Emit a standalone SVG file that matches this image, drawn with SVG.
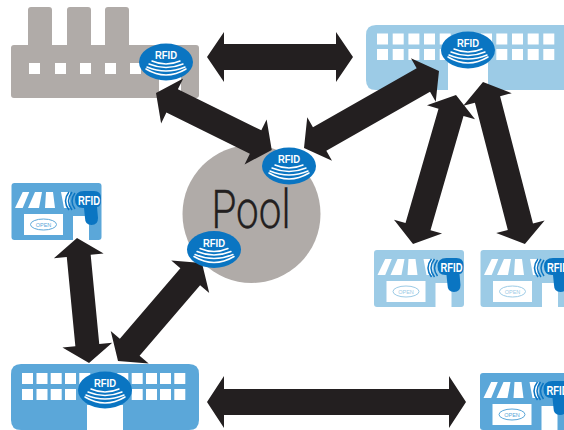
<svg xmlns="http://www.w3.org/2000/svg" width="564" height="430" viewBox="0 0 564 430">
<style>
.b{fill:#0a75c2}
.rt{font-family:"Liberation Sans",Arial,sans-serif;font-weight:700;font-size:11px;fill:#fff;text-anchor:middle}
.st{font-size:12.500px}
.ot{font-family:"Liberation Sans",Arial,sans-serif;font-size:5.500px;text-anchor:middle}
.w{fill:#fff}
.arr{fill:#231f20}
.arc{fill:none;stroke:#fff;stroke-width:1.500;stroke-linecap:round}
.wave{fill:none;stroke:#0a75c2;stroke-width:1.500}
</style>
<defs>
<g id="badge"><ellipse rx="27" ry="18.500" class="b"/>
<path class="arc" d="M-14-1Q0 5 14-1M-17 2Q0 9 17 2M-19 5Q0 13 19 5M-20 7Q0 19 20 7"/></g>
<g id="store">
<rect x="11.500" y="183" width="90" height="57" rx="3" fill="currentColor"/>
<path class="w" d="M22.700 192H29.300L22.700 208H15ZM35 192H42L39 208H28ZM46 192H53L55 208H45ZM61 192H70V208H64Z"/>
<rect x="24" y="214" width="39" height="21" class="w"/>
<rect x="73" y="216" width="16" height="24" class="w"/>
<ellipse cx="43.500" cy="224.500" rx="13" ry="5.500" fill="#fff" stroke="currentColor" stroke-width="1"/>
<path class="wave" d="M72 192Q65 201 72 210M69 192Q62 201 69 210M75 193Q69 201 75 209"/>
<path class="b" d="M84 191H94Q101 191 101 198V200Q101 207 97 207L98 218Q98 225 91.500 225Q85 225 85 218L84 208H83Q75 208 75 199.500Q75 191 84 191Z"/>
</g>
</defs>

<g id="factory">
<path fill="#b0aba8" d="M31 7H49Q52 7 52 10V45H67V10Q67 7 70 7H88Q91 7 91 10V45H105V10Q105 7 108 7H126Q129 7 129 10V45H196Q199 45 199 48V95Q199 98 196 98H14Q11 98 11 95V48Q11 45 14 45H28V10Q28 7 31 7Z"/>
<path class="w" d="M29 63h11v11h-11zM55 63h11v11h-11zM80 63h11v11h-11zM105 63h11v11h-11zM130 63h11v11h-11zM159 72h22v26h-22z"/>
</g>

<g id="dc-top">
<path fill="#9ccbe6" d="M376 25H564V90H376Q366 90 366 80V35Q366 25 376 25Z"/>
<path class="w" d="M377 33.500h11v11h-11zM392.700 33.500h11v11h-11zM408.400 33.500h11v11h-11zM424 33.500h11v11h-11zM439.700 33.500h11v11h-11zM481 33.500h11v11h-11zM496.300 33.500h11v11h-11zM512 33.500h11v11h-11zM527.700 33.500h11v11h-11zM543.300 33.500h11v11h-11zM377 49h11v11h-11zM392.700 49h11v11h-11zM408.400 49h11v11h-11zM424 49h11v11h-11zM439.700 49h11v11h-11zM496.300 49h11v11h-11zM512 49h11v11h-11zM527.700 49h11v11h-11zM543.300 49h11v11h-11zM448 60h40v30h-40z"/>
</g>

<g id="dc-bottom">
<path fill="#5ba7d9" d="M21 364H189Q199 364 199 374V420Q199 430 189 430H21Q11 430 11 420V374Q11 364 21 364Z"/>
<path class="w" d="M22 373h11v11h-11zM36.500 373h11v11h-11zM50.700 373h11v11h-11zM65 373h11v11h-11zM79.300 373h11v11h-11zM117.300 373h11v11h-11zM131.700 373h11v11h-11zM146 373h11v11h-11zM160 373h11v11h-11zM174.300 373h11v11h-11zM22 389h11v11h-11zM36.500 389h11v11h-11zM50.700 389h11v11h-11zM65 389h11v11h-11zM131.700 389h11v11h-11zM146 389h11v11h-11zM160 389h11v11h-11zM174.300 389h11v11h-11zM87 405h36v25h-36z"/>
</g>

<g id="pool">
<circle cx="251.500" cy="214" r="69" fill="#b0aba8"/>
<text x="251" y="228" font-family="Roboto,'Liberation Sans',sans-serif" font-weight="300" font-size="54" fill="#231f20" stroke="#231f20" stroke-width=".3" text-anchor="middle" textLength="79" lengthAdjust="spacingAndGlyphs">Pool</text>
</g>

<g id="store-left" color="#5ba7d9">
<use href="#store"/>
<text class="ot" x="43.500" y="226.500" fill="#5ba7d9">OPEN</text>
<text class="rt st" x="89" y="204.500" textLength="22" lengthAdjust="spacingAndGlyphs">RFID</text>
</g>
<g id="store-mid" color="#9ccbe6" transform="translate(362.500 67)">
<use href="#store"/>
<text class="ot" x="43.500" y="226.500" fill="#9ccbe6">OPEN</text>
<text class="rt st" x="89" y="204.500" textLength="22" lengthAdjust="spacingAndGlyphs">RFID</text>
</g>
<g id="store-right" color="#9ccbe6" transform="translate(469 67)">
<use href="#store"/>
<text class="ot" x="43.500" y="226.500" fill="#9ccbe6">OPEN</text>
<text class="rt st" x="89" y="204.500" textLength="22" lengthAdjust="spacingAndGlyphs">RFID</text>
</g>
<g id="store-bottom" color="#5ba7d9" transform="translate(468.500 190)">
<use href="#store"/>
<text class="ot" x="43.500" y="226.500" fill="#5ba7d9">OPEN</text>
<text class="rt st" x="89" y="204.500" textLength="22" lengthAdjust="spacingAndGlyphs">RFID</text>
</g>

<g id="connectors" class="arr">
<polygon transform="translate(207 57)" points="0,0 17,-25 17,-13 129,-13 129,-25 146,0 129,25 129,13 17,13 17,25"/>
<polygon transform="translate(207 402)" points="0,0 17,-26 17,-13 242,-13 242,-26 259,0 242,26 242,13 17,13 17,26"/>
<polygon transform="translate(156 93) rotate(26.200)" points="0,0 18,-25 18,-13 111,-13 111,-25 129,0 111,25 111,13 18,13 18,25"/>
<polygon transform="translate(304 148) rotate(-29.700)" points="0,0 18,-25 18,-13.500 137.400,-13.500 137.400,-25 155.400,0 137.400,25 137.400,13.500 18,13.500 18,25"/>
<polygon transform="translate(456 95) rotate(106.100)" points="0,0 18,-25 18,-13 137,-13 137,-25 155,0 137,25 137,13 18,13 18,25"/>
<polygon transform="translate(483 82) rotate(75.500)" points="0,0 18,-25 18,-13 149.400,-13 149.400,-25 167.400,0 149.400,25 149.400,13 18,13 18,25"/>
<polygon transform="translate(77 238) rotate(84.500)" points="0,0 18,-25 18,-12 107.600,-12 107.600,-25 125.600,0 107.600,25 107.600,12 18,12 18,25"/>
<polygon transform="translate(118 361) rotate(-49.400)" points="0,0 18,-25 18,-13 111,-13 111,-25 129,0 111,25 111,13 18,13 18,25"/>
</g>

<g id="badge-factory" transform="translate(166 62)"><use href="#badge"/><text class="rt" x="0" y="-3" textLength="22" lengthAdjust="spacingAndGlyphs">RFID</text></g>
<g id="badge-dc-top" transform="translate(468 50)"><use href="#badge"/><text class="rt" x="0" y="-3" textLength="22" lengthAdjust="spacingAndGlyphs">RFID</text></g>
<g id="badge-dc-bottom" transform="translate(105 390)"><use href="#badge"/><text class="rt" x="0" y="-3" textLength="22" lengthAdjust="spacingAndGlyphs">RFID</text></g>
<g id="badge-pool-top" transform="translate(289 166)"><use href="#badge"/><text class="rt" x="0" y="-3" textLength="22" lengthAdjust="spacingAndGlyphs">RFID</text></g>
<g id="badge-pool-bottom" transform="translate(214 249.500)"><use href="#badge"/><text class="rt" x="0" y="-3" textLength="22" lengthAdjust="spacingAndGlyphs">RFID</text></g>
</svg>
